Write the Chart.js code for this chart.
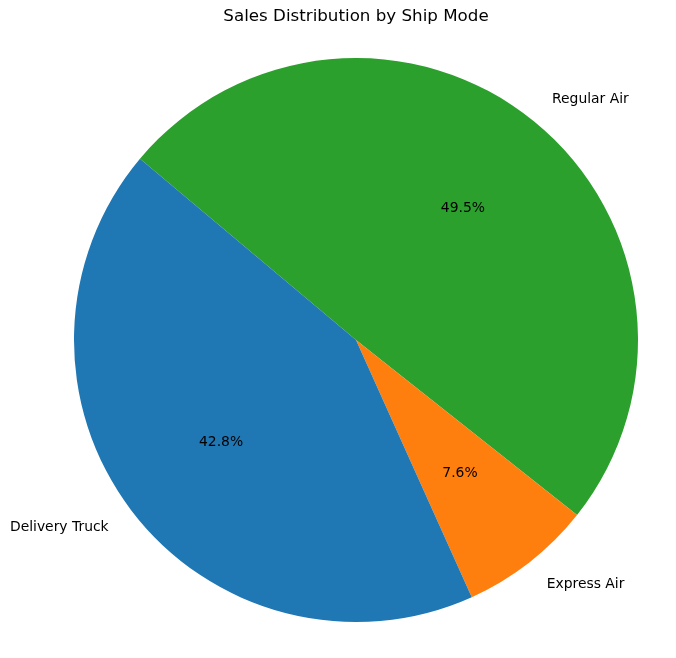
<!DOCTYPE html>
<html>
<head>
<meta charset="utf-8">
<script src="https://cdn.jsdelivr.net/npm/chart.js@4"></script>
<style>
html,body{margin:0;padding:0;background:#fff;}
canvas{display:block;}
</style>
</head>
<body>
<canvas id="c" width="676" height="658"></canvas>
<script>
// Data (ordered clockwise, starting at matplotlib startangle 140°)
const categories = ["Regular Air", "Express Air", "Delivery Truck"];
const shares = [49.5, 7.6, 42.8];
const colors = ["#2ca02c", "#ff7f0e", "#1f77b4"];
const titleText = "Sales Distribution by Ship Mode";

const FONT = "'DejaVu Sans', sans-serif";

const labelPlugin = {
  id: 'pieLabels',
  afterDraw(chart) {
    const ctx = chart.ctx;
    const meta = chart.getDatasetMeta(0);
    const data = chart.data.datasets[0].data;
    const total = data.reduce((a, b) => a + b, 0);
    ctx.save();
    ctx.fillStyle = '#000';
    meta.data.forEach((arc, i) => {
      const p = arc.getProps(['x', 'y', 'startAngle', 'endAngle', 'outerRadius'], true);
      const mid = (p.startAngle + p.endAngle) / 2;
      const c = Math.cos(mid), s = Math.sin(mid);
      // outer label
      ctx.font = "13.9px " + FONT;
      ctx.textBaseline = 'middle';
      ctx.textAlign = c > 0 ? 'left' : 'right';
      ctx.fillText(chart.data.labels[i], p.x + c * p.outerRadius * 1.1, p.y + s * p.outerRadius * 1.1);
      // percent label
      ctx.textAlign = 'center';
      const pct = (data[i] / total * 100).toFixed(1) + '%';
      ctx.fillText(pct, p.x + c * p.outerRadius * 0.6, p.y + s * p.outerRadius * 0.6);
    });
    // title
    ctx.font = "16.7px " + FONT;
    ctx.textAlign = 'center';
    ctx.textBaseline = 'middle';
    const ca = chart.chartArea;
    ctx.fillText(titleText, (ca.left + ca.right) / 2, 17);
    ctx.restore();
  }
};

new Chart(document.getElementById('c'), {
  type: 'pie',
  data: {
    labels: categories,
    datasets: [{
      data: shares,
      backgroundColor: colors,
      borderWidth: 0,
      hoverOffset: 0
    }]
  },
  options: {
    responsive: false,
    devicePixelRatio: 1,
    animation: false,
    rotation: -50,
    layout: { padding: { left: 74, right: 38, top: 58, bottom: 36 } },
    plugins: {
      legend: { display: false },
      title: { display: false },
      tooltip: { enabled: false }
    }
  },
  plugins: [labelPlugin]
});
</script>
</body>
</html>
